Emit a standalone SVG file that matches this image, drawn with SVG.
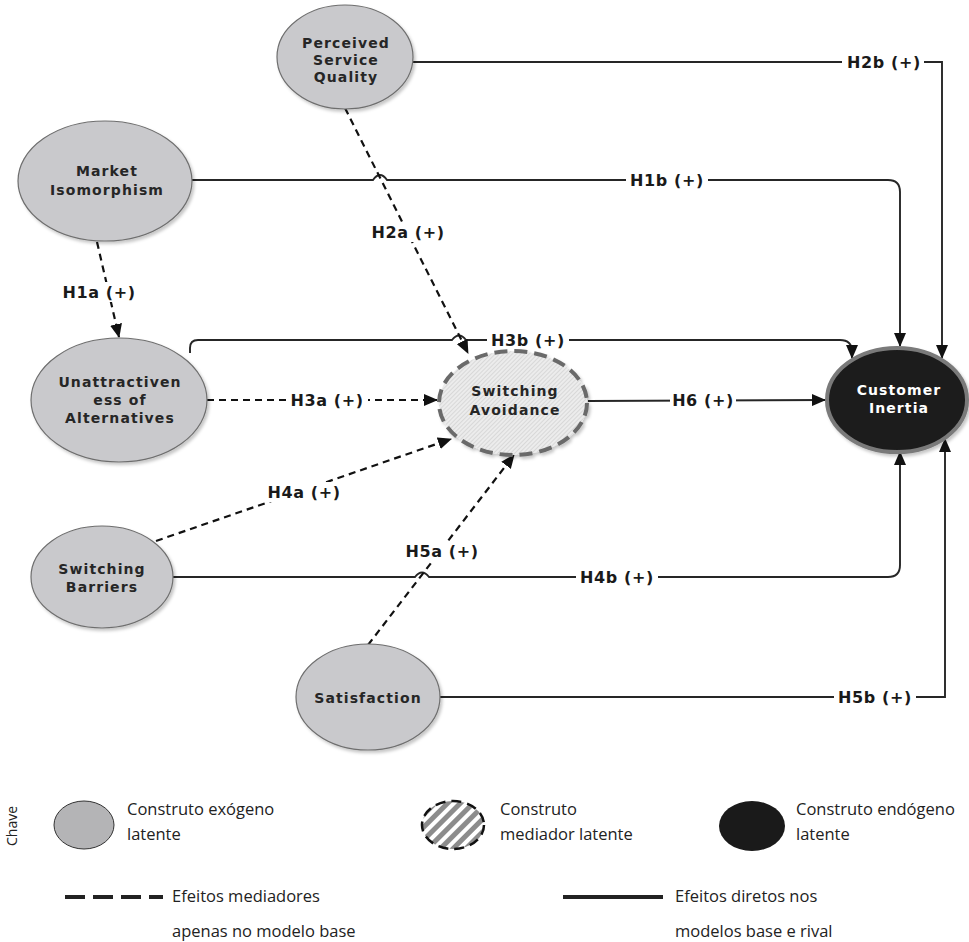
<svg xmlns="http://www.w3.org/2000/svg" width="969" height="942" viewBox="0 0 969 942">
<defs>
<style>
.node{fill:#c9c9cc;stroke:#6e6e6e;stroke-width:1.2}
.nt{font-family:"DejaVu Sans",Verdana,sans-serif;font-weight:bold;font-size:14px;letter-spacing:1.1px;fill:#262626;text-anchor:middle}
.lab{font-family:"DejaVu Sans",Verdana,sans-serif;font-weight:bold;font-size:16px;letter-spacing:0.6px;fill:#1a1a1a;text-anchor:middle}
.solid{fill:none;stroke:#262626;stroke-width:1.9}
.dash{fill:none;stroke:#111;stroke-width:2.2;stroke-dasharray:7 5}
.bg{fill:#fff}
.lg{font-family:"Open Sans",sans-serif;font-size:16.5px;fill:#222}
</style>
<marker id="ah" markerUnits="userSpaceOnUse" markerWidth="14" markerHeight="12" refX="13" refY="6" orient="auto"><path d="M0,0 L14,6 L0,12 z" fill="#111"/></marker>
<pattern id="fine" width="3" height="3" patternUnits="userSpaceOnUse" patternTransform="rotate(45)"><rect width="3" height="3" fill="#ececec"/><line x1="0.5" y1="0" x2="0.5" y2="3" stroke="#d8d8d8" stroke-width="1"/></pattern>
<pattern id="stripes" width="9" height="9" patternUnits="userSpaceOnUse" patternTransform="rotate(45)"><rect width="9" height="9" fill="#fff"/><rect width="5" height="9" fill="#8c8c8c"/></pattern>
<filter id="sh" x="-10%" y="-10%" width="125%" height="125%"><feDropShadow dx="2" dy="2.5" stdDeviation="1.5" flood-color="#000" flood-opacity="0.22"/></filter>
</defs>
<rect width="969" height="942" fill="#fff"/>

<g id="connectors">
  <path class="solid" d="M413,62 H942 V358" marker-end="url(#ah)"/>
  <path class="solid" d="M192,180 H373 Q380,170 387,180 H888 Q900,180 900,192 V346" marker-end="url(#ah)"/>
  <path class="solid" d="M190,353 V348 Q190,340 198,340 H452 Q459,331 466,340 H840 Q852,340 852,352 V358" marker-end="url(#ah)"/>
  <path class="solid" d="M588,401 L825,400" marker-end="url(#ah)"/>
  <path class="solid" d="M173,577 H415 Q422,568 429,577 H888 Q900,577 900,565 V452" marker-end="url(#ah)"/>
  <path class="solid" d="M440,697 H945 V439" marker-end="url(#ah)"/>
  <path class="dash" d="M345,108 L468,353" marker-end="url(#ah)"/>
  <path class="dash" d="M97,242 L119,337" marker-end="url(#ah)"/>
  <path class="dash" d="M207,400 L437,400" marker-end="url(#ah)"/>
  <path class="dash" d="M156,541 L451,439" marker-end="url(#ah)"/>
  <path class="dash" d="M368,645 L514,455" marker-end="url(#ah)"/>
  <rect class="bg" x="842" y="52" width="82" height="20"/><text class="lab" x="884" y="68">H2b (+)</text>
  <rect class="bg" x="626" y="170" width="82" height="20"/><text class="lab" x="667" y="186">H1b (+)</text>
  <rect class="bg" x="367" y="222" width="82" height="20"/><text class="lab" x="408" y="238">H2a (+)</text>
  <rect class="bg" x="58" y="282" width="82" height="20"/><text class="lab" x="99" y="298">H1a (+)</text>
  <rect class="bg" x="487" y="330" width="82" height="20"/><text class="lab" x="528" y="346">H3b (+)</text>
  <rect class="bg" x="286" y="390" width="82" height="20"/><text class="lab" x="327" y="406">H3a (+)</text>
  <rect class="bg" x="670" y="390" width="66" height="20"/><text class="lab" x="703" y="406">H6 (+)</text>
  <rect class="bg" x="263" y="482" width="82" height="20"/><text class="lab" x="304" y="498">H4a (+)</text>
  <rect class="bg" x="401" y="541" width="82" height="20"/><text class="lab" x="442" y="557">H5a (+)</text>
  <rect class="bg" x="576" y="567" width="82" height="20"/><text class="lab" x="617" y="583">H4b (+)</text>
  <rect class="bg" x="834" y="687" width="82" height="20"/><text class="lab" x="875" y="703">H5b (+)</text>
</g>

<g id="perceived-service-quality">
  <ellipse class="node" filter="url(#sh)" cx="345" cy="57" rx="68" ry="52"/>
  <text class="nt" x="346" y="48">Perceived</text>
  <text class="nt" x="346" y="65">Service</text>
  <text class="nt" x="346" y="82">Quality</text>
</g>
<g id="market-isomorphism">
  <ellipse class="node" filter="url(#sh)" cx="105" cy="181" rx="87" ry="60"/>
  <text class="nt" x="107" y="176">Market</text>
  <text class="nt" x="107" y="195">Isomorphism</text>
</g>
<g id="unattractiveness-of-alternatives">
  <ellipse class="node" filter="url(#sh)" cx="119" cy="400" rx="88" ry="62"/>
  <text class="nt" x="120" y="387">Unattractiven</text>
  <text class="nt" x="120" y="405">ess of</text>
  <text class="nt" x="120" y="423">Alternatives</text>
</g>
<g id="switching-avoidance">
  <ellipse cx="513" cy="403" rx="74" ry="52" fill="url(#fine)" stroke="#6a6a6a" stroke-width="4" stroke-dasharray="13 7" filter="url(#sh)"/>
  <text class="nt" x="515" y="396">Switching</text>
  <text class="nt" x="515" y="415">Avoidance</text>
</g>
<g id="customer-inertia">
  <ellipse cx="897" cy="400" rx="70" ry="52" fill="#1c1c1c" stroke="#7a7a7a" stroke-width="4" filter="url(#sh)"/>
  <text class="nt" x="899" y="395" style="fill:#fff">Customer</text>
  <text class="nt" x="899" y="413" style="fill:#fff">Inertia</text>
</g>
<g id="switching-barriers">
  <ellipse class="node" filter="url(#sh)" cx="102" cy="577" rx="71" ry="51"/>
  <text class="nt" x="102" y="574">Switching</text>
  <text class="nt" x="102" y="592">Barriers</text>
</g>
<g id="satisfaction">
  <ellipse class="node" filter="url(#sh)" cx="368" cy="697" rx="72" ry="53"/>
  <text class="nt" x="368" y="703">Satisfaction</text>
</g>

<g id="legend">
  <text class="lg" x="17" y="826" text-anchor="middle" transform="rotate(-90 17 826)" style="font-size:14px">Chave</text>
  <ellipse cx="84" cy="825" rx="30" ry="24" fill="#b4b4b6" stroke="#333" stroke-width="1"/>
  <text class="lg" x="127" y="815">Construto exógeno</text>
  <text class="lg" x="127" y="840">latente</text>
  <ellipse cx="453" cy="825" rx="31" ry="24" fill="url(#stripes)" stroke="#111" stroke-width="2.5" stroke-dasharray="10 6"/>
  <text class="lg" x="500" y="815">Construto</text>
  <text class="lg" x="500" y="840">mediador latente</text>
  <ellipse cx="752" cy="826" rx="33" ry="25" fill="#1a1a1a"/>
  <text class="lg" x="796" y="815">Construto endógeno</text>
  <text class="lg" x="796" y="840">latente</text>
  <line x1="65" y1="897" x2="163" y2="897" stroke="#222" stroke-width="4" stroke-dasharray="20 8"/>
  <text class="lg" x="172" y="902">Efeitos mediadores</text>
  <text class="lg" x="172" y="937">apenas no modelo base</text>
  <line x1="563" y1="897" x2="663" y2="897" stroke="#222" stroke-width="4"/>
  <text class="lg" x="675" y="902">Efeitos diretos nos</text>
  <text class="lg" x="675" y="937">modelos base e rival</text>
</g>
</svg>
